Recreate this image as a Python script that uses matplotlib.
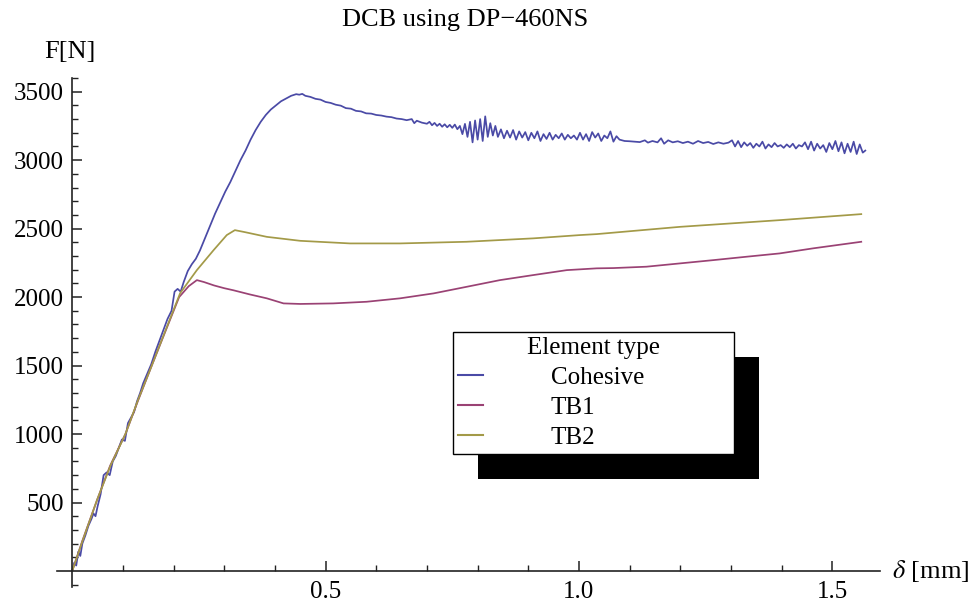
import numpy as np
import matplotlib
matplotlib.use("Agg")
import matplotlib.pyplot as plt
from matplotlib.lines import Line2D
from matplotlib.patches import Rectangle
from matplotlib.transforms import IdentityTransform

plt.rcParams['font.family'] = ['Liberation Serif', 'DejaVu Serif']
plt.rcParams['mathtext.fontset'] = 'stix'

# cohesive elements (noisy test-like curve)
coh_x = [0.000, 0.004, 0.008, 0.012, 0.016, 0.020, 0.026, 0.032, 0.038, 0.042, 0.046, 0.050,
         0.056, 0.062, 0.068, 0.074, 0.080, 0.086, 0.092, 0.098, 0.104, 0.110, 0.116, 0.122,
         0.128, 0.134, 0.140, 0.148, 0.156, 0.164, 0.172, 0.180, 0.188, 0.196, 0.202, 0.208,
         0.214, 0.220, 0.228, 0.236, 0.244, 0.252, 0.262, 0.272, 0.282, 0.292, 0.302, 0.312,
         0.322, 0.332, 0.342, 0.352, 0.362, 0.372, 0.382, 0.392, 0.402, 0.412, 0.422, 0.432,
         0.442, 0.448, 0.454, 0.46, 0.47, 0.48, 0.49, 0.50, 0.51, 0.52, 0.53, 0.54, 0.55, 0.56,
         0.57, 0.58, 0.59, 0.60, 0.61, 0.62, 0.63, 0.64, 0.65, 0.66, 0.67, 0.675, 0.68, 0.69,
         0.70, 0.705, 0.71, 0.715, 0.72, 0.725, 0.73, 0.735, 0.74, 0.745, 0.75, 0.755, 0.76,
         0.765, 0.77, 0.775, 0.78, 0.785, 0.79, 0.795, 0.80, 0.805, 0.81, 0.815, 0.82, 0.825,
         0.83, 0.835, 0.84, 0.846, 0.852, 0.858, 0.864, 0.870, 0.876, 0.882, 0.888, 0.894,
         0.900, 0.906, 0.912, 0.918, 0.924, 0.930, 0.936, 0.942, 0.948, 0.954, 0.960, 0.966,
         0.972, 0.978, 0.984, 0.990, 0.996, 1.002, 1.008, 1.014, 1.020, 1.026, 1.032, 1.038,
         1.044, 1.050, 1.056, 1.062, 1.068, 1.074, 1.080, 1.090, 1.100, 1.110, 1.120, 1.130,
         1.136, 1.145, 1.155, 1.162, 1.168, 1.176, 1.185, 1.195, 1.205, 1.215, 1.225, 1.235,
         1.245, 1.255, 1.265, 1.275, 1.285, 1.295, 1.302, 1.308, 1.314, 1.320, 1.326, 1.332,
         1.338, 1.344, 1.350, 1.356, 1.362, 1.368, 1.374, 1.380, 1.386, 1.392, 1.398, 1.404,
         1.410, 1.416, 1.422, 1.428, 1.434, 1.440, 1.446, 1.452, 1.458, 1.464, 1.470, 1.476,
         1.482, 1.488, 1.494, 1.500, 1.506, 1.512, 1.518, 1.524, 1.530, 1.536, 1.542, 1.548,
         1.554, 1.560, 1.565]
coh_y = [0, 60, 40, 140, 110, 200, 260, 330, 380, 420, 400, 470,
         560, 700, 720, 700, 800, 840, 900, 960, 950, 1080, 1120, 1160,
         1240, 1300, 1370, 1440, 1510, 1600, 1680, 1760, 1840, 1900, 2040, 2060,
         2040, 2110, 2190, 2240, 2280, 2340, 2430, 2520, 2610, 2690, 2770, 2840,
         2920, 3000, 3070, 3150, 3220, 3280, 3330, 3370, 3400, 3430, 3450, 3470,
         3482, 3478, 3484, 3470, 3462, 3448, 3442, 3425, 3418, 3405, 3398, 3380, 3376, 3360,
         3356, 3342, 3340, 3330, 3326, 3318, 3314, 3304, 3300, 3292, 3300, 3270, 3288, 3274,
         3266, 3280, 3255, 3272, 3250, 3266, 3244, 3262, 3240, 3258, 3236, 3260, 3226,
         3250, 3190, 3265, 3170, 3280, 3130, 3290, 3150, 3300, 3140, 3320, 3170, 3270,
         3180, 3250, 3170, 3225, 3160, 3215, 3165, 3220, 3150, 3210, 3165, 3205,
         3145, 3200, 3160, 3210, 3140, 3190, 3155, 3200, 3150, 3185, 3160, 3195,
         3150, 3185, 3160, 3180, 3150, 3200, 3150, 3190, 3140, 3205, 3165, 3195,
         3140, 3180, 3160, 3210, 3135, 3175, 3150, 3140, 3138, 3135, 3132, 3145,
         3128, 3140, 3130, 3160, 3120, 3145, 3130, 3138, 3125, 3135, 3120, 3140,
         3125, 3133, 3118, 3130, 3120, 3128, 3145, 3100, 3140, 3095, 3130, 3105,
         3125, 3090, 3120, 3100, 3135, 3085, 3115, 3095, 3125, 3100, 3110, 3090,
         3115, 3095, 3120, 3085, 3110, 3100, 3130, 3080, 3135, 3070, 3120, 3085,
         3110, 3060, 3125, 3080, 3140, 3065, 3130, 3050, 3120, 3060, 3135, 3045,
         3115, 3055, 3070]

# TB1 elements
tb1_x = [0.0, 0.02, 0.049, 0.075, 0.105, 0.13, 0.157, 0.185, 0.211, 0.23, 0.246, 0.26, 0.28,
         0.30, 0.318, 0.35, 0.384, 0.417, 0.45, 0.515, 0.581, 0.647, 0.713, 0.778, 0.844,
         0.910, 0.976, 1.035, 1.068, 1.133, 1.199, 1.265, 1.331, 1.396, 1.462, 1.557]
tb1_y = [0, 220, 518, 770, 1000, 1245, 1500, 1760, 2000, 2080, 2124, 2110, 2085,
         2065, 2050, 2020, 1991, 1954, 1950, 1954, 1966, 1991, 2027, 2075, 2124,
         2161, 2197, 2210, 2212, 2222, 2246, 2270, 2295, 2319, 2356, 2404]

# TB2 elements
tb2_x = [0.0, 0.02, 0.049, 0.075, 0.105, 0.13, 0.157, 0.185, 0.213, 0.246, 0.279, 0.305,
         0.321, 0.34, 0.384, 0.45, 0.548, 0.647, 0.778, 0.910, 1.002, 1.035, 1.199, 1.396, 1.557]
tb2_y = [0, 215, 518, 765, 1000, 1250, 1500, 1765, 2029, 2197, 2343, 2453,
         2489, 2475, 2440, 2411, 2392, 2392, 2404, 2429, 2453, 2460, 2513, 2562, 2606]

series_names = ["Cohesive", "TB1", "TB2"]
colors = ["#4a4aa6", "#9a4274", "#a39a48"]

x_major = [0.5, 1.0, 1.5]
x_major_labels = ["0.5", "1.0", "1.5"]
y_major = [500, 1000, 1500, 2000, 2500, 3000, 3500]

W, H = 978, 605
fig = plt.figure(figsize=(W / 100, H / 100), dpi=100)
# axes box in pixels: left 57, right 880, top 78, bottom 587
ax = fig.add_axes([57 / W, 1 - 587 / H, 823 / W, 509 / H])
ax.set_xlim(-0.03, 1.594)
ax.set_ylim(-117, 3600)

for xs, ys, c in zip([coh_x, tb1_x, tb2_x], [coh_y, tb1_y, tb2_y], colors):
    ax.plot(xs, ys, color=c, lw=1.25, solid_joinstyle='round')

for s in ['top', 'right']:
    ax.spines[s].set_visible(False)
ax.spines['left'].set_position(('data', 0))
ax.spines['bottom'].set_position(('data', 0))
for s in ['left', 'bottom']:
    ax.spines[s].set_linewidth(1.2)
    ax.spines[s].set_color('#222222')

ax.set_xticks(x_major)
ax.set_xticklabels(x_major_labels)
ax.set_xticks([0.1, 0.2, 0.3, 0.4, 0.6, 0.7, 0.8, 0.9, 1.1, 1.2, 1.3, 1.4], minor=True)
ax.set_yticks(y_major)
ax.set_yticks([v for v in range(-100, 3601, 100) if v % 500 != 0], minor=True)
ax.tick_params(which='major', direction='in', length=7, width=1.1, labelsize=18, color='#222222')
ax.tick_params(which='minor', direction='in', length=4, width=1.0, color='#222222')
ax.tick_params(axis='x', which='major', pad=7)
ax.tick_params(axis='y', which='major', pad=6)

fig.text(465 / W, 1 - 20 / H, "DCB using DP\u2212460NS", ha='center', va='center', fontsize=19)
fig.text(70 / W, 1 - 52 / H, "F[N]", ha='center', va='center', fontsize=19)
fig.text(892 / W, 1 - 571 / H, r"$\delta$ [mm]", ha='left', va='center', fontsize=19)

handles = [Line2D([], [], color=c, lw=1.5) for c in colors]
leg = ax.legend(handles, series_names, title="Element type", loc='upper left',
                bbox_to_anchor=((453 - 57) / 823, 1 - (453 - 78) / 509, 281 / 823, 121 / 509),
                mode='expand', borderaxespad=0, fontsize=18, title_fontsize=18,
                handlelength=1.0, handletextpad=2.7, labelspacing=0.3, borderpad=0.2,
                fancybox=False, framealpha=1, edgecolor='black')
leg.get_frame().set_linewidth(1.0)

fig.canvas.draw()
bb = leg.get_window_extent()
shadow = Rectangle((bb.x0 + 25, bb.y0 - 25), bb.width, bb.height, transform=IdentityTransform(),
                   facecolor='black', edgecolor='none', zorder=4, clip_on=False)
ax.add_artist(shadow)

fig.savefig("out.png", dpi=100)
